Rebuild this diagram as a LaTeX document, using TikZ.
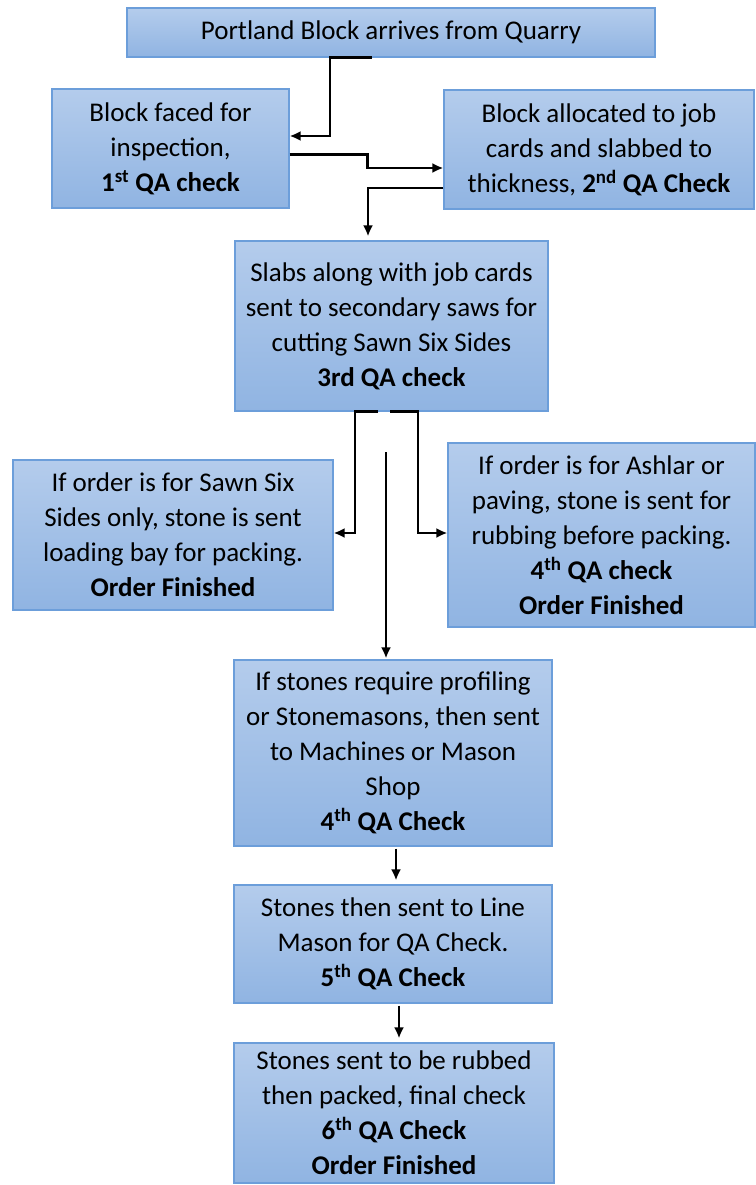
\documentclass[tikz,border=0pt]{standalone}
\usepackage{fontspec}
\setmainfont{Carlito}
\usepackage{tikz}
\usetikzlibrary{arrows.meta, positioning}
\definecolor{boxtop}{RGB}{180,204,236}
\definecolor{boxbot}{RGB}{144,180,226}
\definecolor{boxline}{RGB}{108,158,218}
\tikzstyle{arrow} = [-{Latex[length=11pt,width=10pt]}, line width=2.4pt]
\tikzstyle{stage} = [rectangle, draw=boxline, line width=1.2pt, top color=boxtop, bottom color=boxbot, align=center, inner sep=0pt, font=\fontsize{27}{35}\selectfont]

\begin{document}
\begin{tikzpicture}[x=1pt, y=-1pt]
  \useasboundingbox (0,0) rectangle (755,1185);

  % Nodes
  \node (quarry) [stage, minimum width=528pt, minimum height=49pt] at (391,32.5) {Portland Block arrives from Quarry};
  \node (faced) [stage, minimum width=237pt, minimum height=119pt] at (170.5,148.5) {Block faced for\\inspection,\\\textbf{1\textsuperscript{st} QA check}};
  \node (slabbed) [stage, minimum width=310pt, minimum height=119pt] at (599,149.5) {Block allocated to job\\cards and slabbed to\\thickness, \textbf{2\textsuperscript{nd} QA Check}};
  \node (slabs) [stage, minimum width=313pt, minimum height=170pt] at (391.5,326) {Slabs along with job cards\\sent to secondary saws for\\cutting Sawn Six Sides\\\textbf{3rd QA check}};
  \node (sawn) [stage, minimum width=320pt, minimum height=150pt] at (173,535) {If order is for Sawn Six\\Sides only, stone is sent\\loading bay for packing.\\\textbf{Order Finished}};
  \node (ashlar) [stage, minimum width=307pt, minimum height=184pt] at (601.5,535) {If order is for Ashlar or\\paving, stone is sent for\\rubbing before packing.\\\textbf{4\textsuperscript{th} QA check}\\\textbf{Order Finished}};
  \node (profile) [stage, minimum width=318pt, minimum height=186pt] at (393,753) {If stones require profiling\\or Stonemasons, then sent\\to Machines or Mason\\Shop\\\textbf{4\textsuperscript{th} QA Check}};
  \node (mason) [stage, minimum width=318pt, minimum height=118pt] at (393,944) {Stones then sent to Line\\Mason for QA Check.\\\textbf{5\textsuperscript{th} QA Check}};
  \node (rubbed) [stage, minimum width=320pt, minimum height=140pt] at (394,1113) {Stones sent to be rubbed\\then packed, final check\\\textbf{6\textsuperscript{th} QA Check}\\\textbf{Order Finished}};
  \coordinate (split) at (386,452);

  % Arrows
  \draw[arrow] ([xshift=-19pt]quarry.south) -- ++(-42,0) |- ([yshift=12.5pt]faced.east);
  \draw[arrow] ([yshift=-6pt]faced.east) -- ++(78,0) |- ([yshift=-18.5pt]slabbed.west);
  \draw[arrow, shorten >=4pt] ([yshift=-38.5pt]slabbed.west) -| ([xshift=-23.5pt]slabs.north);
  \draw[arrow] ([xshift=-13.5pt]slabs.south) -- ++(-23,0) |- ([yshift=2pt]sawn.east);
  \draw[arrow] ([xshift=-1.5pt]slabs.south) -- ++(28,0) |- ([yshift=2pt]ashlar.west);
  \draw[arrow, shorten >=1pt] (split) -- (split |- profile.north);
  \draw[arrow, shorten <=2pt, shorten >=4pt] ([xshift=3pt]profile.south) -- ([xshift=3pt]mason.north);
  \draw[arrow, shorten <=2pt, shorten >=4pt] ([xshift=6pt]mason.south) -- ([xshift=6pt]mason.south |- rubbed.north);

\end{tikzpicture}
\end{document}
